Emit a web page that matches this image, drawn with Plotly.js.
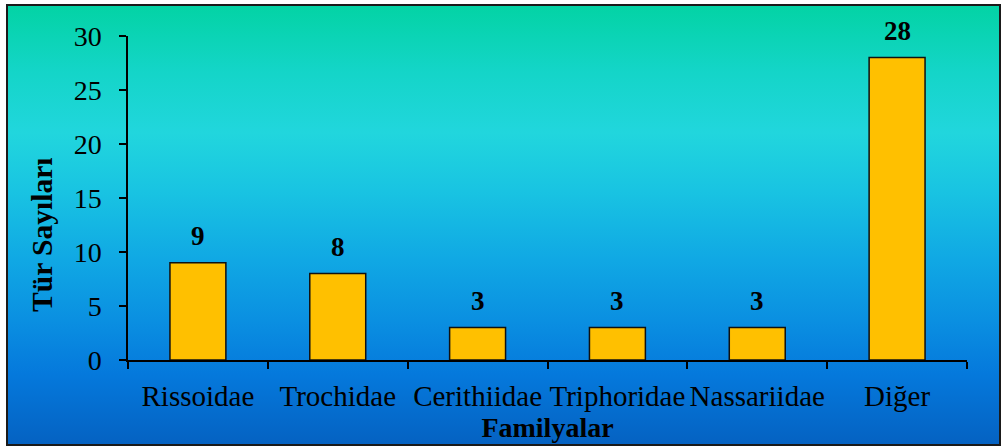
<!DOCTYPE html>
<html>
<head>
<meta charset="utf-8">
<script src="https://cdn.plot.ly/plotly-3.0.1.min.js"></script>
<style>
  html, body { margin: 0; padding: 0; background: #ffffff; }
  #wrap { position: relative; width: 1002px; height: 446px; overflow: hidden; }
  #bg {
    position: absolute; left: 6px; top: 4px; width: 991px; height: 438px;
    border: 2px solid #1a1a1a;
    background: linear-gradient(to bottom, #03d3a5 0%, #14d5c8 15%, #21d6dd 29%, #19c4e2 42%, #10a8e4 58%, #0a8fe1 72%, #0579dc 84%, #0562c2 100%);
  }
  #chart { position: absolute; left: 0; top: 0; width: 1002px; height: 446px; }
</style>
</head>
<body>
<div id="wrap">
  <div id="bg"></div>
  <div id="chart"></div>
</div>
<script>
const categories = ["Rissoidae", "Trochidae", "Cerithiidae", "Triphoridae", "Nassariidae", "Diğer"];
const turSayilari = [9, 8, 3, 3, 3, 28];
const yTickValues = [0, 5, 10, 15, 20, 25, 30];

const serif = "'Liberation Serif', 'Times New Roman', Times, serif";

const trace = {
  type: "bar",
  x: categories,
  y: turSayilari,
  width: 0.4,
  marker: { color: "#FFC000", line: { color: "#111111", width: 1.5 } },
  hoverinfo: "x+y"
};

const labelAnnotations = categories.map((c, i) => ({
  x: c, y: turSayilari[i], xref: "x", yref: "y",
  text: "<b>" + turSayilari[i] + "</b>",
  showarrow: false, yanchor: "middle", yshift: 27,
  font: { family: serif, size: 27, color: "#000000" }
}));

const layout = {
  width: 1002, height: 446,
  margin: { l: 128, r: 35, t: 36, b: 86 },
  paper_bgcolor: "rgba(0,0,0,0)",
  plot_bgcolor: "rgba(0,0,0,0)",
  showlegend: false,
  bargap: 0.6,
  xaxis: {
    type: "category",
    range: [-0.5, 5.5],
    tickson: "boundaries",
    tickangle: 0,
    ticks: "outside", ticklen: 7, tickwidth: 1.5, tickcolor: "#000",
    ticklabelstandoff: 9,
    showline: true, linecolor: "#000", linewidth: 1.5,
    showgrid: false, zeroline: false,
    automargin: false,
    tickfont: { family: serif, size: 29, color: "#000" },
    title: { text: "<b>Familyalar</b>", standoff: 2, font: { family: serif, size: 28, color: "#000" } }
  },
  yaxis: {
    range: [0, 30],
    tickvals: yTickValues,
    ticks: "outside", ticklen: 7, tickwidth: 1.5, tickcolor: "#000",
    ticklabelstandoff: 12,
    showline: true, linecolor: "#000", linewidth: 1.5,
    showgrid: false, zeroline: false,
    automargin: false,
    tickfont: { family: serif, size: 28, color: "#000" }
  },
  annotations: labelAnnotations.concat([{
    xref: "paper", yref: "paper",
    x: -0.1025, y: 0.386,
    text: "<b>Tür Sayıları</b>", textangle: -90,
    showarrow: false, xanchor: "center", yanchor: "middle",
    font: { family: serif, size: 29.5, color: "#000" }
  }])
};

Plotly.newPlot("chart", [trace], layout, { displayModeBar: false, staticPlot: false });
</script>
</body>
</html>
